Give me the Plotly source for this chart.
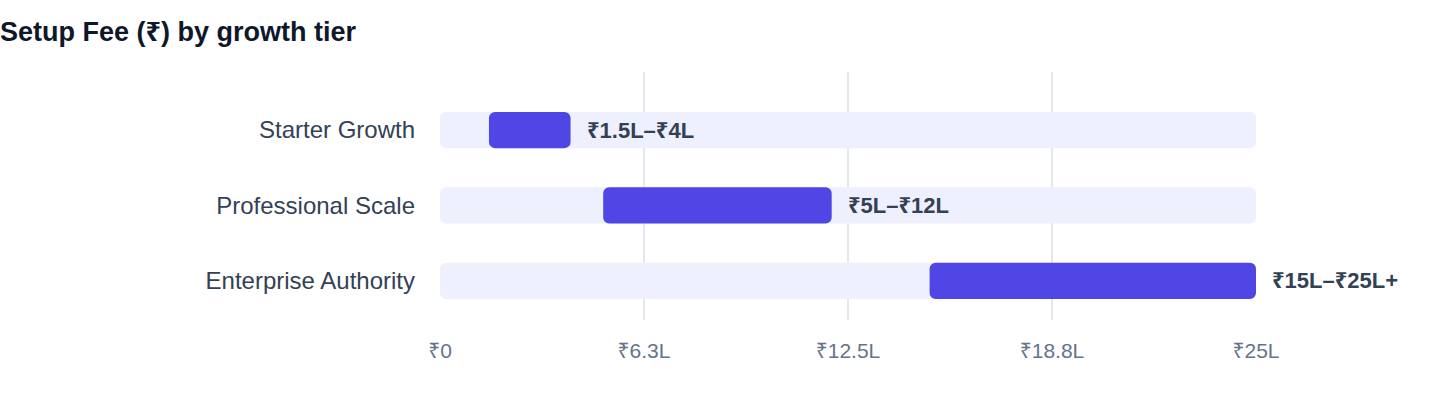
import plotly.graph_objects as go

tiers = ["Starter Growth", "Professional Scale", "Enterprise Authority"]
fee_low = [1.5, 5, 15]
fee_high = [4, 12, 25]
fee_labels = ["₹1.5L–₹4L", "₹5L–₹12L", "₹15L–₹25L+"]
axis_max = 25
tick_vals = [0, 6.25, 12.5, 18.75, 25]
tick_text = ["₹0", "₹6.3L", "₹12.5L", "₹18.8L", "₹25L"]

FONT = "Helvetica Neue, Helvetica, Arial, Liberation Sans, Noto Sans, sans-serif"

# full-width track behind each range
track = go.Bar(
    y=tiers,
    x=[axis_max] * len(tiers),
    base=[0] * len(tiers),
    orientation="h",
    marker=dict(color="#EEF0FD", cornerradius=6, line_width=0),
    width=0.48,
    hoverinfo="skip",
)

ranges = go.Bar(
    y=tiers,
    x=[h - l for l, h in zip(fee_low, fee_high)],
    base=fee_low,
    orientation="h",
    marker=dict(color="#4F46E5", cornerradius=6, line_width=0),
    width=0.48,
    customdata=fee_labels,
    hovertemplate="%{y}: %{customdata}<extra></extra>",
)

fig = go.Figure(data=[track, ranges])

# range labels just right of each bar
for tier, hi, lab in zip(tiers, fee_high, fee_labels):
    fig.add_annotation(
        x=hi, y=tier, text=f"<b>{lab}</b>",
        xanchor="left", yanchor="middle", xshift=14,
        showarrow=False,
        font=dict(family=FONT, size=22, color="#334155"),
    )

fig.update_layout(
    width=1440,
    height=408,
    barmode="overlay",
    showlegend=False,
    plot_bgcolor="white",
    paper_bgcolor="white",
    font=dict(family=FONT),
    title=dict(
        text="<b>Setup Fee (₹) by growth tier</b>",
        x=0, xanchor="left", xref="container",
        y=1 - 32 / 408, yanchor="middle", yref="container",
        font=dict(size=27, color="#0F172A", family=FONT),
    ),
    margin=dict(l=440, r=184, t=72, b=88),
)

fig.update_xaxes(
    range=[0, axis_max],
    tickvals=tick_vals,
    ticktext=tick_text,
    showgrid=True,
    gridcolor="#E2E8F0",
    gridwidth=1.5,
    zeroline=False,
    showline=False,
    ticks="",
    ticklabelstandoff=16,
    tickfont=dict(size=21, color="#64748B", family=FONT),
)
fig.update_yaxes(
    categoryorder="array",
    categoryarray=tiers,
    range=[2.52, -0.77],
    showgrid=False,
    zeroline=False,
    showline=False,
    ticks="",
    ticklabelstandoff=24,
    tickfont=dict(size=24, color="#334155", family=FONT),
)

fig.write_html(
    "out.html",
    config={"displayModeBar": False},
    post_script="document.body.style.margin='0';",
)
